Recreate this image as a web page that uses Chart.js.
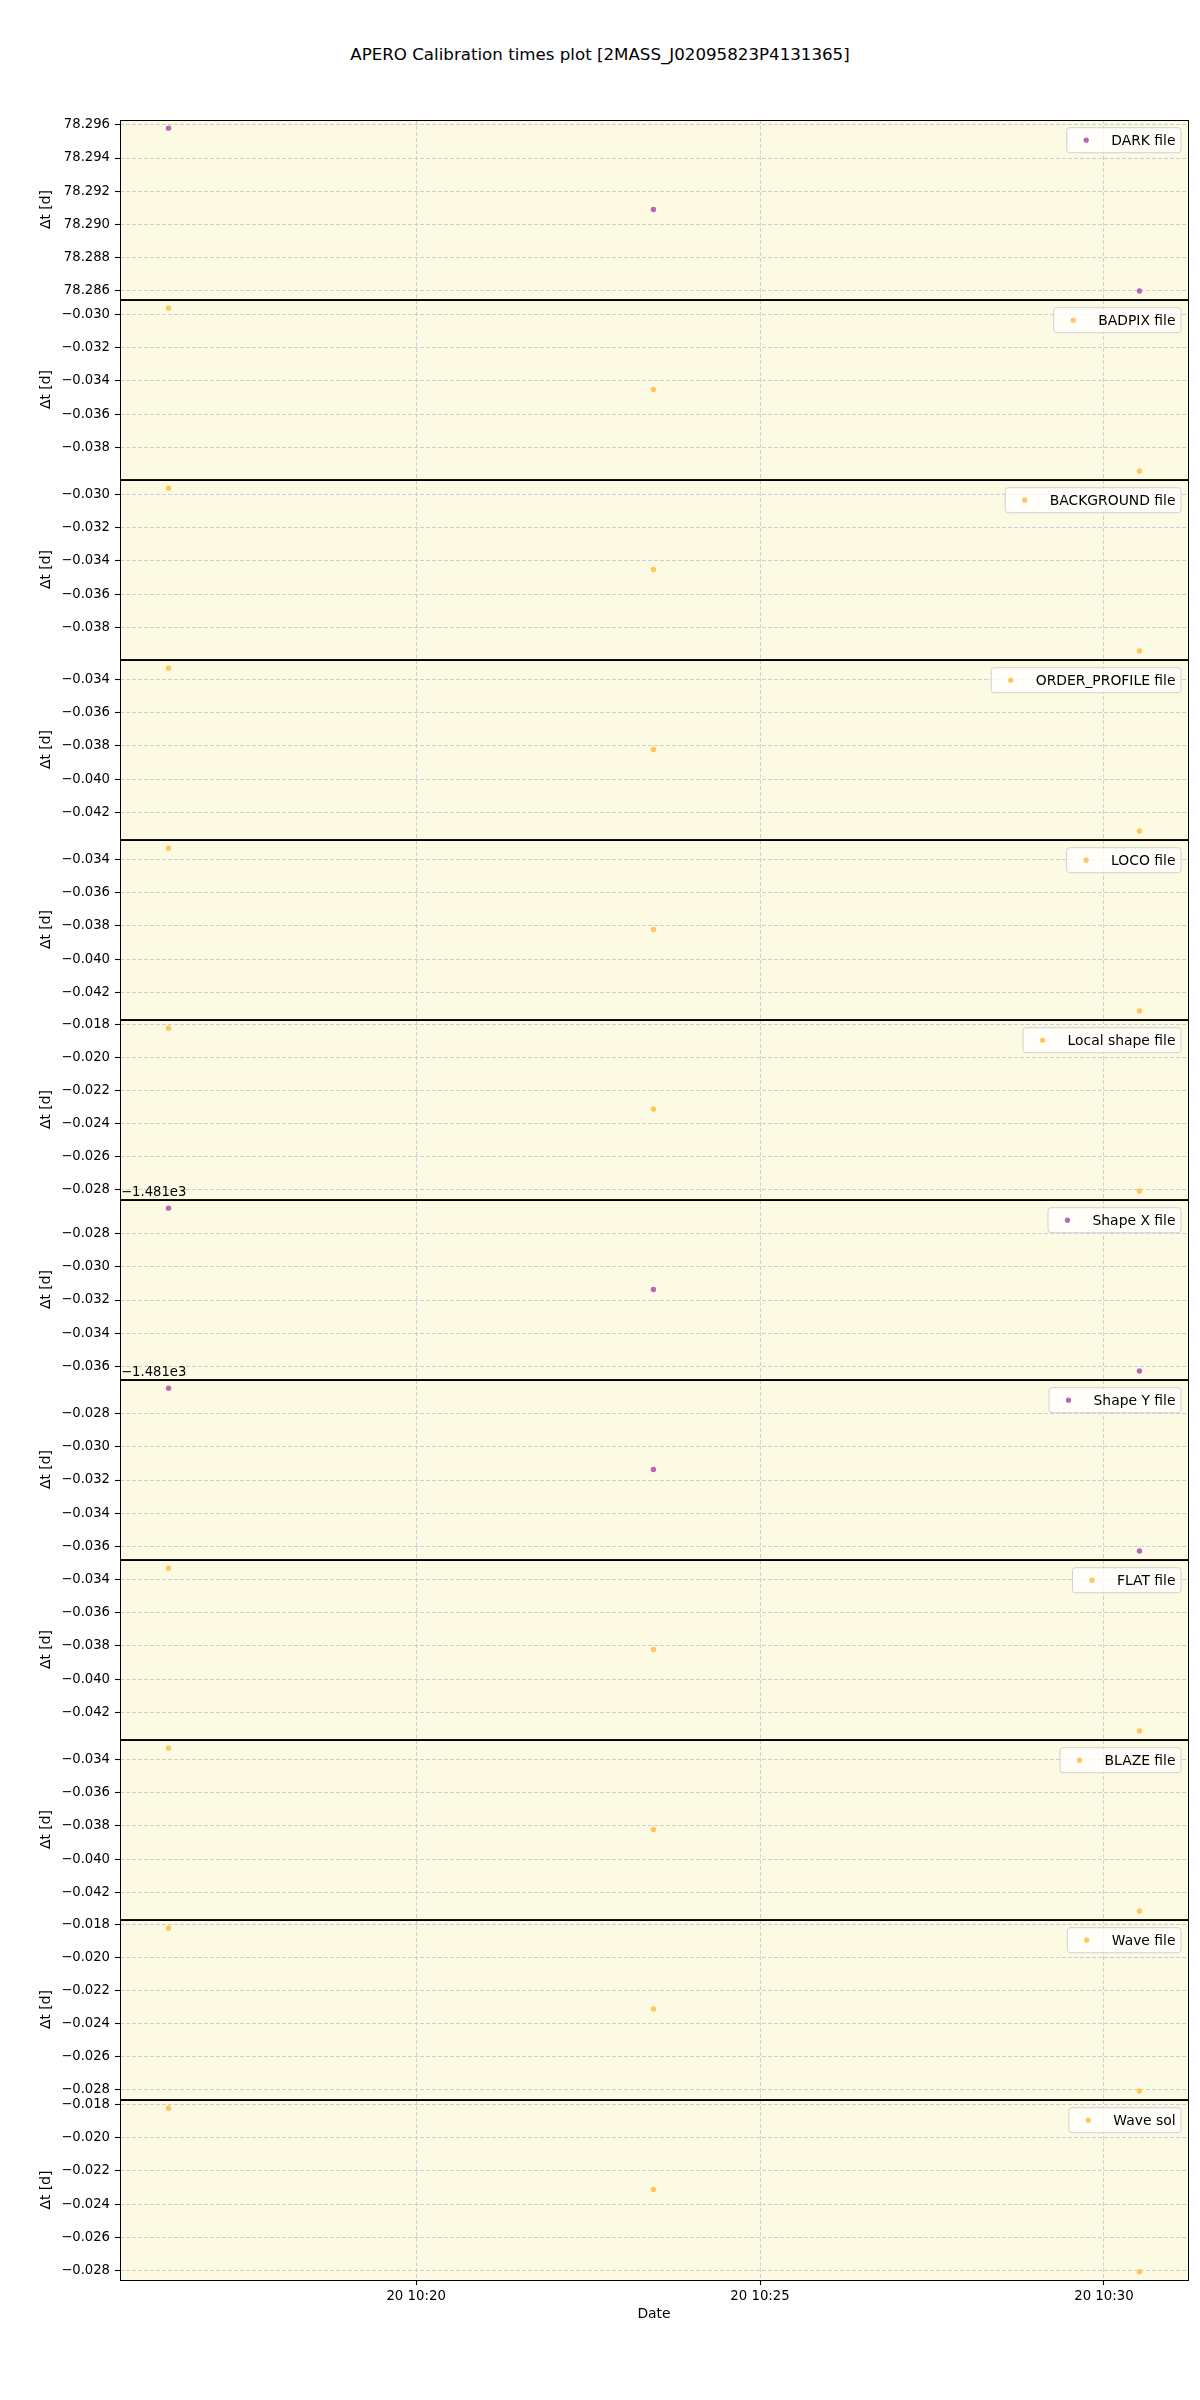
<!DOCTYPE html>
<html><head><meta charset="utf-8">
<script src="https://cdn.jsdelivr.net/npm/chart.js@4.4.1/dist/chart.umd.min.js"></script>
<style>
html,body{margin:0;padding:0;background:#fff;}
#wrap{position:relative;width:1200px;height:2400px;overflow:hidden;}
.cv{position:absolute;left:0;width:1200px;}
#title{position:absolute;top:45px;left:0;width:1200px;text-align:center;font-family:'DejaVu Sans',sans-serif;font-size:16.67px;line-height:20px;color:#000;}
</style></head><body>
<div id="wrap"><div id="title">APERO Calibration times plot [2MASS_J02095823P4131365]</div></div>
<script>
// ---------- data ----------
const obsTimes = ['10:16:24', '10:23:27', '10:30:31'];
const xTickLabels = ['20 10:20', '20 10:25', '20 10:30'];

const darkValues        = [78.2958, 78.2909, 78.2860];
const badpixValues      = [-0.02964, -0.03452, -0.03940];
const backgroundValues  = [-0.02964, -0.03452, -0.03940];
const orderProfileValues= [-0.03334, -0.03822, -0.04310];
const locoValues        = [-0.03334, -0.03822, -0.04310];
const localShapeValues  = [-0.01824, -0.02312, -0.02806];
const shapeXValues      = [-1481.02649, -1481.03137, -1481.03625];
const shapeYValues      = [-1481.02649, -1481.03137, -1481.03625];
const flatValues        = [-0.03334, -0.03822, -0.04310];
const blazeValues       = [-0.03334, -0.03822, -0.04310];
const waveFileValues    = [-0.01824, -0.02312, -0.02806];
const waveSolValues     = [-0.01824, -0.02312, -0.02806];

const darkTicks   = [78.286, 78.288, 78.290, 78.292, 78.294, 78.296];
const badpixTicks = [-0.038, -0.036, -0.034, -0.032, -0.030];
const orderTicks  = [-0.042, -0.040, -0.038, -0.036, -0.034];
const shapeTicks  = [-1481.036, -1481.034, -1481.032, -1481.030, -1481.028];
const localTicks  = [-0.028, -0.026, -0.024, -0.022, -0.020, -0.018];
const shapeOffset = -1481;
const shapeOffsetLabel = '\u22121.481e3';

const seriesLabels = ['DARK file','BADPIX file','BACKGROUND file','ORDER_PROFILE file','LOCO file','Local shape file','Shape X file','Shape Y file','FLAT file','BLAZE file','Wave file','Wave sol'];
const PURPLE = 'rgb(186,102,182)';
const ORANGE = 'rgb(255,198,92)';

// ---------- layout / style ----------
const TOP0 = 120, PH = 180, PADT = 28, PADB = 12, XAX = 50, PADB_LAST = 64;
const BG = 'rgb(252,250,226)';
const GRID = 'rgb(206,206,214)';
const FAM = "'DejaVu Sans', sans-serif";
Chart.defaults.font.family = FAM;
Chart.defaults.color = '#000';

function toMin(s){ const p = s.split(':').map(Number); return p[0]*60 + p[1] + (p[2]||0)/60; }
function fmt(v){ const s = v.toFixed(3); return s.replace('-', '\u2212'); }

const xs = obsTimes.map(toMin);
const xTickVals = xTickLabels.map(l => toMin(l.split(' ')[1]));
const xLo = Math.min(...xs), xHi = Math.max(...xs), xm = 0.05*(xHi-xLo);

const panels = [
  {values: darkValues, ticks: darkTicks, color: PURPLE, offset: 0},
  {values: badpixValues, ticks: badpixTicks, color: ORANGE, offset: 0},
  {values: backgroundValues, ticks: badpixTicks, color: ORANGE, offset: 0},
  {values: orderProfileValues, ticks: orderTicks, color: ORANGE, offset: 0},
  {values: locoValues, ticks: orderTicks, color: ORANGE, offset: 0},
  {values: localShapeValues, ticks: localTicks, color: ORANGE, offset: 0},
  {values: shapeXValues, ticks: shapeTicks, color: PURPLE, offset: shapeOffset},
  {values: shapeYValues, ticks: shapeTicks, color: PURPLE, offset: shapeOffset},
  {values: flatValues, ticks: orderTicks, color: ORANGE, offset: 0},
  {values: blazeValues, ticks: orderTicks, color: ORANGE, offset: 0},
  {values: waveFileValues, ticks: localTicks, color: ORANGE, offset: 0},
  {values: waveSolValues, ticks: localTicks, color: ORANGE, offset: 0},
];
panels.forEach((p, i) => p.label = seriesLabels[i]);

function roundRect(c, x, y, w, h, r){
  c.beginPath();
  c.moveTo(x+r, y); c.lineTo(x+w-r, y); c.arcTo(x+w, y, x+w, y+r, r);
  c.lineTo(x+w, y+h-r); c.arcTo(x+w, y+h, x+w-r, y+h, r);
  c.lineTo(x+r, y+h); c.arcTo(x, y+h, x, y+h-r, r);
  c.lineTo(x, y+r); c.arcTo(x, y, x+r, y, r); c.closePath();
}

function makePlugin(p, k){
  return {
    id: 'panel' + k,
    beforeDraw(chart){
      const a = chart.chartArea, c = chart.ctx;
      c.save(); c.fillStyle = BG; c.fillRect(a.left, a.top, a.right-a.left, a.bottom-a.top); c.restore();
    },
    afterDraw(chart){
      const a = chart.chartArea, c = chart.ctx;
      c.save();
      // frame
      c.strokeStyle = '#000'; c.lineWidth = 1;
      c.strokeRect(a.left + 0.5, a.top + 0.5, a.right - a.left, a.bottom - a.top);
      // offset text
      if (p.offset !== 0){
        c.font = '13.2px ' + FAM; c.fillStyle = '#000';
        c.textAlign = 'left'; c.textBaseline = 'alphabetic';
        c.fillText(shapeOffsetLabel, a.left + 1, a.top - 4);
      }
      // legend
      const fs = 13.9;
      c.font = fs + 'px ' + FAM;
      const tw = c.measureText(p.label).width;
      const bp = 0.4*fs, hl = 2.0*fs, htp = 0.8*fs;
      const w = bp + hl + htp + tw + bp, h = 25;
      const x = a.right - 0.5*fs - w, y = a.top + 7.7;
      roundRect(c, x, y, w, h, 3);
      c.fillStyle = 'rgba(255,255,255,0.8)'; c.fill();
      c.strokeStyle = 'rgba(204,204,204,0.9)'; c.lineWidth = 1; c.stroke();
      c.fillStyle = p.color;
      c.beginPath(); c.arc(x + bp + hl/2, y + h/2, 2.6, 0, Math.PI*2); c.fill();
      c.fillStyle = '#000'; c.textAlign = 'left'; c.textBaseline = 'middle';
      c.fillText(p.label, x + bp + hl + htp, y + h/2 + 1);
      c.restore();
    }
  };
}

const wrap = document.getElementById('wrap');
panels.forEach((p, k) => {
  const last = k === panels.length - 1;
  const padB = last ? PADB_LAST : PADB;
  const h = PADT + PH + padB;
  const div = document.createElement('div'); div.className = 'cv';
  div.style.top = (TOP0 + PH*k - PADT) + 'px'; div.style.height = h + 'px';
  const cv = document.createElement('canvas'); div.appendChild(cv); wrap.appendChild(div);
  const lo = Math.min(...p.values), hi = Math.max(...p.values), m = 0.05*(hi-lo);
  new Chart(cv, {
    type: 'scatter',
    data: { datasets: [{
      label: p.label,
      data: xs.map((x, i) => ({x: x, y: p.values[i]})),
      backgroundColor: p.color, borderColor: p.color,
      pointRadius: 2.7, pointBorderWidth: 0, pointHoverRadius: 2.7
    }]},
    options: {
      responsive: true, maintainAspectRatio: false, animation: false, events: [],
      layout: { padding: { top: PADT, bottom: last ? padB - XAX : padB, left: 0, right: 12 } },
      plugins: { legend: { display: false }, tooltip: { enabled: false } },
      scales: {
        x: {
          type: 'linear', min: xLo - xm, max: xHi + xm,
          afterBuildTicks: s => { s.ticks = xTickVals.map(v => ({value: v})); },
          afterFit: s => { s.height = last ? XAX : 0; },
          grid: { color: GRID, lineWidth: 1, drawTicks: last, tickLength: 5, tickColor: '#000', tickWidth: 1.1 },
          border: { display: false, dash: [4, 2] },
          ticks: { display: last, padding: 4, font: { size: 13.3 }, maxRotation: 0, autoSkip: false,
                   callback: (v, i) => xTickLabels[i] },
          title: { display: last, text: 'Date', font: { size: 13.9 }, padding: { top: 0, bottom: 7 } }
        },
        y: {
          min: lo - m, max: hi + m,
          afterBuildTicks: s => { s.ticks = p.ticks.map(v => ({value: v})); },
          afterFit: s => { s.width = 120; },
          grid: { color: GRID, lineWidth: 1, tickLength: 5, tickColor: '#000', tickWidth: 1.1 },
          border: { display: false, dash: [4, 2] },
          ticks: { padding: 5, font: { size: 13.2 }, autoSkip: false,
                   callback: v => fmt(v - p.offset) },
          title: { display: true, text: '\u0394t [d]', font: { size: 13.9 }, padding: { top: 38 } }
        }
      }
    },
    plugins: [makePlugin(p, k)]
  });
});
</script>
</body></html>
